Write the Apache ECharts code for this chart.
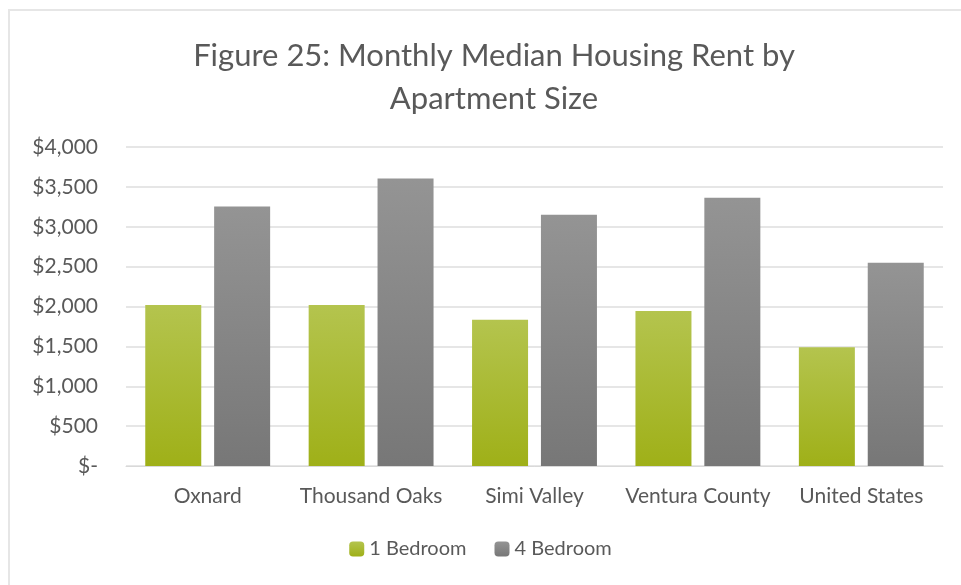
<!DOCTYPE html>
<html>
<head>
<meta charset="utf-8">
<script src="https://cdn.jsdelivr.net/npm/echarts@6/dist/echarts.min.js"></script>
<style>
  html, body { margin: 0; padding: 0; background: #fff; }
  #frame {
    position: absolute; left: 8px; top: 9px; width: 970px; height: 590px;
    border-top: 2px solid #e6e6e6; border-left: 2px solid #e6e6e6;
    box-sizing: border-box;
  }
  #chart { position: absolute; left: 0; top: 0; width: 961px; height: 585px; }
</style>
</head>
<body>
<div id="frame"></div>
<div id="chart"></div>
<script>
// figure 25 data
const categories = ['Oxnard', 'Thousand Oaks', 'Simi Valley', 'Ventura County', 'United States']
const oneBedroom = [2020, 2020, 1835, 1945, 1490]
const fourBedroom = [3255, 3605, 3150, 3365, 2550]

const textColor = '#595959'
const fontFamily = 'Lato, "Open Sans", sans-serif'

const greenFill = new echarts.graphic.LinearGradient(0, 0, 0, 1, [
  { offset: 0, color: '#b4c44e' },
  { offset: 1, color: '#9fb018' }
])
const grayFill = new echarts.graphic.LinearGradient(0, 0, 0, 1, [
  { offset: 0, color: '#949494' },
  { offset: 1, color: '#777777' }
])

const myChart = echarts.init(document.getElementById('chart'), null, { renderer: 'canvas' })

const option = {
  backgroundColor: 'transparent',
  textStyle: { fontFamily: fontFamily },
  title: {
    text: 'Figure 25: Monthly Median Housing Rent by\nApartment Size',
    left: 489,
    textAlign: 'center',
    top: 29,
    textStyle: {
      color: textColor,
      fontSize: 31,
      fontWeight: 'normal',
      fontFamily: fontFamily,
      lineHeight: 43
    }
  },
  legend: {
    bottom: 21,
    left: 'center',
    itemWidth: 15,
    itemHeight: 15,
    itemGap: 28,
    textStyle: { color: textColor, fontSize: 20, fontFamily: fontFamily },
    data: [
      { name: '1 Bedroom', itemStyle: { color: greenFill } },
      { name: '4 Bedroom', itemStyle: { color: grayFill } }
    ]
  },
  grid: {
    left: 126,
    right: 18,
    top: 147,
    bottom: 119,
    containLabel: false
  },
  xAxis: {
    type: 'category',
    data: categories,
    axisLine: { show: true, lineStyle: { color: '#d9d9d9', width: 1 } },
    axisTick: { show: false },
    axisLabel: { color: textColor, fontSize: 21, margin: 20, interval: 0, fontFamily: fontFamily }
  },
  yAxis: {
    type: 'value',
    min: 0,
    max: 4000,
    interval: 500,
    axisLine: { show: false },
    axisTick: { show: false },
    splitLine: { lineStyle: { color: '#e6e6e6', width: 2 } },
    axisLabel: {
      color: textColor,
      fontSize: 21,
      margin: 28,
      fontFamily: fontFamily,
      formatter: (v) => v === 0 ? '$-' : '$' + v.toLocaleString('en-US')
    }
  },
  series: [
    {
      name: '1 Bedroom',
      type: 'bar',
      barWidth: 56,
      barGap: '23%',
      itemStyle: { color: greenFill },
      data: oneBedroom
    },
    {
      name: '4 Bedroom',
      type: 'bar',
      barWidth: 56,
      barGap: '23%',
      itemStyle: { color: grayFill },
      data: fourBedroom
    }
  ]
}

myChart.setOption(option)
</script>
</body>
</html>
